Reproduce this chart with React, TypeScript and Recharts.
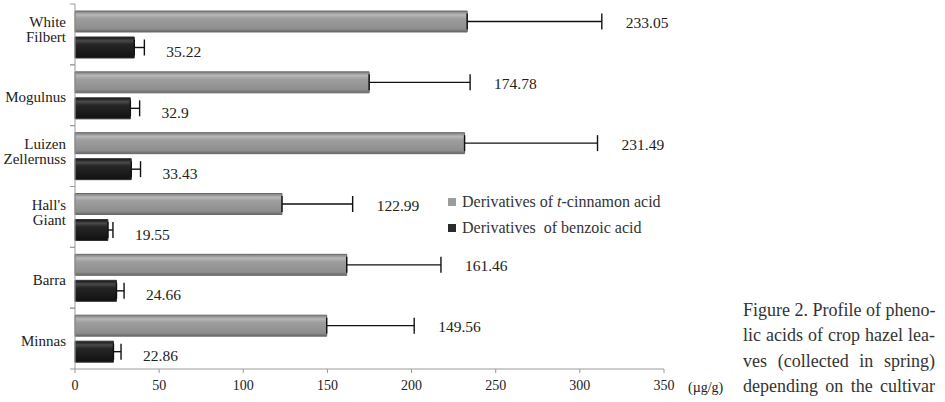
import React from 'react';
import { BarChart, Bar, XAxis, YAxis, ErrorBar, LabelList } from 'recharts';

const cultivars = ['White Filbert', 'Mogulnus', 'Luizen Zellernuss', "Hall's Giant", 'Barra', 'Minnas'];
const cinnamon = [233.05, 174.78, 231.49, 122.99, 161.46, 149.56];
const cinnamonSd = [80, 60, 79, 42, 56, 52];
const benzoic = [35.22, 32.9, 33.43, 19.55, 24.66, 22.86];
const benzoicSd = [6, 5.5, 5.5, 3, 4.5, 4.5];
const xTicks = [0, 50, 100, 150, 200, 250, 300, 350];

const captionLines = [
  'Figure 2. Profile of pheno-',
  'lic acids of crop hazel lea-',
  'ves (collected in spring)',
  'depending on the cultivar',
];

const data = cultivars.map((name, i) => ({
  name,
  cinnamon: cinnamon[i],
  cinnamonErr: [0, cinnamonSd[i]],
  benzoic: benzoic[i],
  benzoicErr: [0, benzoicSd[i]],
}));

const SERIF = 'Liberation Serif';

// category label, split onto two lines when it has two words
const CultivarTick = (props: any) => {
  const { x, y, payload } = props;
  const half = payload.offset ?? 30;
  const words = String(payload.value).split(' ');
  const lines = words.length > 1 ? words : [payload.value];
  const start = lines.length > 1 ? -12 : 2;
  return (
    <g>
      <line x1={x} x2={x + 5} y1={y - half} y2={y - half} stroke="#9a9a9a" />
      <line x1={x} x2={x + 5} y1={y + half} y2={y + half} stroke="#9a9a9a" />
      <text x={x - 4} y={y} textAnchor="end" fontFamily={SERIF} fontSize={15} fill="#222">
        {lines.map((l: string, i: number) => (
          <tspan key={i} x={x - 4} y={y + start + i * 15} dominantBaseline="central">
            {l}
          </tspan>
        ))}
      </text>
    </g>
  );
};

// value printed past the end of the error bar
const valueLabel = (sd: number[], gap: number, dy: number) => (props: any) => {
  const { x, y, width, height, value, index } = props;
  const perUnit = value ? Number(width) / Number(value) : 0;
  const capX = Number(x) + Number(width) + sd[index] * perUnit;
  return (
    <text
      x={capX + gap}
      y={Number(y) + Number(height) / 2 + dy}
      dominantBaseline="central"
      fontFamily={SERIF}
      fontSize={15.5}
      fill="#222"
    >
      {value}
    </text>
  );
};

const LegendRow = ({ color, children }: { color: string; children: React.ReactNode }) => (
  <div style={{ display: 'flex', alignItems: 'center', whiteSpace: 'pre', height: 26 }}>
    <span style={{ width: 8, height: 8, background: color, marginRight: 6, display: 'inline-block' }} />
    <span>{children}</span>
  </div>
);

export default function App() {
  return (
    <div style={{ position: 'absolute', left: 0, top: 0, width: 945, height: 402, background: '#fff' }}>
      <BarChart
        width={740}
        height={402}
        data={data}
        layout="vertical"
        margin={{ top: 4, right: 76, bottom: 0, left: 0 }}
        barSize={21}
        barGap={5}
      >
        <defs>
          <linearGradient id="grayBar" x1="0" y1="0" x2="0" y2="1">
            <stop offset="0%" stopColor="#7c7c7c" />
            <stop offset="18%" stopColor="#b8b8b8" />
            <stop offset="35%" stopColor="#9e9e9e" />
            <stop offset="85%" stopColor="#8e8e8e" />
            <stop offset="100%" stopColor="#666" />
          </linearGradient>
          <linearGradient id="blackBar" x1="0" y1="0" x2="0" y2="1">
            <stop offset="0%" stopColor="#111" />
            <stop offset="18%" stopColor="#4a4a4a" />
            <stop offset="35%" stopColor="#262626" />
            <stop offset="100%" stopColor="#111" />
          </linearGradient>
        </defs>
        <XAxis
          type="number"
          domain={[0, 350]}
          ticks={xTicks}
          height={33}
          stroke="#9a9a9a"
          tickSize={4}
          tickMargin={7}
          tick={{ fontFamily: SERIF, fontSize: 14, fill: '#222' }}
          label={{ value: '(µg/g)', position: 'right', offset: 24, dy: 2, fontFamily: SERIF, fontSize: 14, fill: '#222' }}
        />
        <YAxis
          type="category"
          dataKey="name"
          width={75}
          stroke="#9a9a9a"
          tickLine={false}
          tickSize={0}
          tickMargin={5}
          tick={<CultivarTick />}
        />
        <Bar dataKey="cinnamon" fill="url(#grayBar)" stroke="#6a6a6a" isAnimationActive={false}>
          <ErrorBar dataKey="cinnamonErr" direction="x" width={8} stroke="#111" strokeWidth={1.4} />
          <LabelList dataKey="cinnamon" content={valueLabel(cinnamonSd, 24, 1)} />
        </Bar>
        <Bar dataKey="benzoic" fill="url(#blackBar)" stroke="#333" isAnimationActive={false}>
          <ErrorBar dataKey="benzoicErr" direction="x" width={8} stroke="#111" strokeWidth={1.4} />
          <LabelList dataKey="benzoic" content={valueLabel(benzoicSd, 22, 4)} />
        </Bar>
      </BarChart>

      <div
        style={{
          position: 'absolute',
          left: 448,
          top: 189,
          fontFamily: SERIF,
          fontSize: 16,
          color: '#333',
        }}
      >
        <LegendRow color="#9c9c9c">
          Derivatives of <i>t</i>-cinnamon acid
        </LegendRow>
        <LegendRow color="#2a2a2a">Derivatives  of benzoic acid</LegendRow>
      </div>

      <div
        style={{
          position: 'absolute',
          left: 743,
          top: 298,
          width: 192,
          fontFamily: SERIF,
          fontSize: 18,
          lineHeight: '25.3px',
          color: '#333',
        }}
      >
        {captionLines.map((line) => (
          <div key={line} style={{ textAlign: 'justify', textAlignLast: 'justify', whiteSpace: 'nowrap' }}>
            {line}
          </div>
        ))}
      </div>
    </div>
  );
}
